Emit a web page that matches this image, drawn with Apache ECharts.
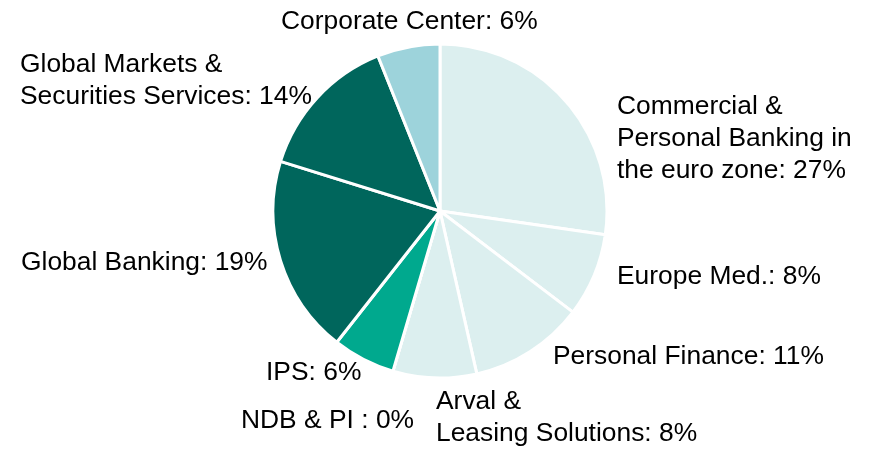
<!DOCTYPE html>
<html>
<head>
<meta charset="utf-8">
<script src="https://cdn.jsdelivr.net/npm/echarts@6/dist/echarts.min.js"></script>
<style>
  html, body { margin: 0; padding: 0; background: #fff; }
  #chart { width: 875px; height: 451px; }
</style>
</head>
<body>
<div id="chart"></div>
<script>
// segments, clockwise from 12 o'clock
const names = [
  'Commercial &\nPersonal Banking in\nthe euro zone',
  'Europe Med.',
  'Personal Finance',
  'Arval &\nLeasing Solutions',
  'NDB & PI ',
  'IPS',
  'Global Banking',
  'Global Markets &\nSecurities Services',
  'Corporate Center'
]
const shares = [27, 8, 11, 8, 0, 6, 19, 14, 6]
const colors = ['#dcefef', '#dcefef', '#dcefef', '#dcefef', '#dcefef', '#00a98e', '#00665c', '#00665c', '#9dd3db']

// label anchor (left x, middle y) per slice
const labelPos = [
  [617, 139], [617, 277], [553, 357], [436, 418], [241, 421],
  [266, 373], [21, 263], [20, 81], [281, 22]
]

const chart = echarts.init(document.getElementById('chart'))

chart.setOption({
  animation: false,
  series: [
    {
      type: 'pie',
      center: [440, 211],
      radius: 167,
      startAngle: 90,
      clockwise: true,
      avoidLabelOverlap: false,
      data: names.map((n, i) => ({
        name: n,
        value: shares[i],
        itemStyle: { color: colors[i] }
      })),
      itemStyle: {
        borderColor: '#fff',
        borderWidth: 3
      },
      label: {
        show: true,
        formatter: '{b}: {c}%',
        fontFamily: 'Liberation Sans, Arial, sans-serif',
        fontSize: 26.4,
        lineHeight: 32,
        color: '#000'
      },
      labelLine: { show: false },
      labelLayout: (params) => {
        const p = labelPos[params.dataIndex]
        return { x: p[0], y: p[1], align: 'left', verticalAlign: 'middle' }
      }
    }
  ]
})
</script>
</body>
</html>
